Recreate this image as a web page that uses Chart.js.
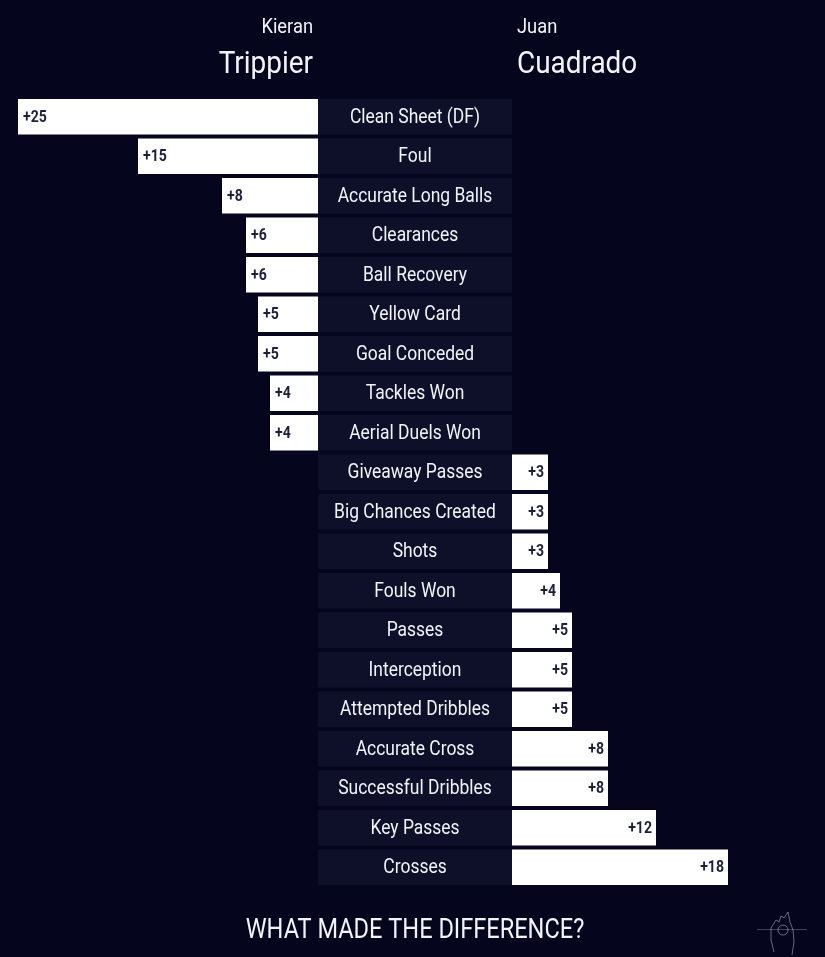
<!DOCTYPE html>
<html>
<head>
<meta charset="utf-8">
<script src="https://cdn.jsdelivr.net/npm/chart.js@4.4.1/dist/chart.umd.min.js"></script>
<style>
  html, body { margin: 0; padding: 0; background: #05061e; }
  #wrap { width: 825px; height: 957px; }
</style>
</head>
<body>
<div id="wrap"><canvas id="c" width="825" height="957"></canvas></div>
<script>
const categories = ["Clean Sheet (DF)", "Foul", "Accurate Long Balls", "Clearances", "Ball Recovery",
  "Yellow Card", "Goal Conceded", "Tackles Won", "Aerial Duels Won", "Giveaway Passes",
  "Big Chances Created", "Shots", "Fouls Won", "Passes", "Interception", "Attempted Dribbles",
  "Accurate Cross", "Successful Dribbles", "Key Passes", "Crosses"];
const trippierValues = [25, 15, 8, 6, 6, 5, 5, 4, 4, 0, 0, 0, 0, 0, 0, 0, 0, 0, 0, 0];
const cuadradoValues = [0, 0, 0, 0, 0, 0, 0, 0, 0, 3, 3, 3, 4, 5, 5, 5, 8, 8, 12, 18];
const leftPlayer = { first: "Kieran", last: "Trippier" };
const rightPlayer = { first: "Juan", last: "Cuadrado" };
const footerTitle = "WHAT MADE THE DIFFERENCE?";

const PX_PER_UNIT = 12;
const GAP = 194 / PX_PER_UNIT;          // width of the central label column, in value units
const X_MIN = -318 / PX_PER_UNIT;
const X_MAX = X_MIN + 825 / PX_PER_UNIT;

const BG = '#05061e';
const BOX = '#0e1029';
const TEXT = '#f2f4fa';
const LABEL_DARK = '#1b2036';
const FONT = "Roboto, 'Open Sans', sans-serif";

// draw text horizontally condensed (to imitate a narrow typeface)
function condText(ctx, str, x, y, align, squeeze) {
  ctx.save();
  ctx.translate(x, y);
  ctx.scale(squeeze, 1);
  ctx.textAlign = align;
  ctx.fillText(str, 0, 0);
  ctx.restore();
}

const textPlugin = {
  id: 'texts',
  beforeDraw(chart) {
    const ctx = chart.ctx;
    ctx.save();
    ctx.fillStyle = BG;
    ctx.fillRect(0, 0, chart.width, chart.height);
    ctx.restore();
  },
  afterDatasetsDraw(chart) {
    const ctx = chart.ctx;
    const xs = chart.scales.x;
    ctx.save();
    // calibrate narrowing factor
    ctx.font = "20px " + FONT;
    const squeeze = Math.min(1, 130 / ctx.measureText(categories[0]).width);
    // center labels
    const boxMeta = chart.getDatasetMeta(0);
    ctx.fillStyle = TEXT;
    ctx.textBaseline = 'middle';
    const cx = (xs.getPixelForValue(0) + xs.getPixelForValue(GAP)) / 2;
    boxMeta.data.forEach((el, i) => {
      condText(ctx, categories[i], cx, el.y + 1, 'center', squeeze);
    });
    // value labels
    ctx.font = "bold 16px " + FONT;
    ctx.fillStyle = LABEL_DARK;
    const vs = 0.88;
    chart.getDatasetMeta(1).data.forEach((el, i) => {
      const v = trippierValues[i];
      if (!v) return;
      condText(ctx, '+' + v, Math.min(el.x, el.base) + 5, el.y + 1, 'left', vs);
    });
    chart.getDatasetMeta(2).data.forEach((el, i) => {
      const v = cuadradoValues[i];
      if (!v) return;
      condText(ctx, '+' + v, Math.max(el.x, el.base) - 4, el.y + 1, 'right', vs);
    });
    // player names
    const lx = xs.getPixelForValue(0) - 5;
    const rx = xs.getPixelForValue(GAP) + 5;
    ctx.fillStyle = TEXT;
    ctx.textBaseline = 'alphabetic';
    ctx.font = "21px " + FONT;
    condText(ctx, leftPlayer.first, lx, 33, 'right', squeeze);
    condText(ctx, rightPlayer.first, rx, 33, 'left', squeeze);
    ctx.font = "32px " + FONT;
    condText(ctx, leftPlayer.last, lx, 73, 'right', squeeze);
    condText(ctx, rightPlayer.last, rx, 73, 'left', squeeze);
    // footer
    ctx.font = "27px " + FONT;
    condText(ctx, footerTitle, cx, 938, 'center', squeeze);
    // small logo mark
    ctx.strokeStyle = 'rgba(200,205,230,0.3)';
    ctx.lineWidth = 1;
    ctx.beginPath();
    ctx.moveTo(757, 929.5); ctx.lineTo(807, 929.5);
    ctx.stroke();
    ctx.strokeStyle = 'rgba(220,225,245,0.45)';
    ctx.beginPath();
    ctx.moveTo(774, 952); ctx.lineTo(771, 940); ctx.lineTo(771, 928);
    ctx.lineTo(776, 920); ctx.lineTo(779, 922); ctx.lineTo(781, 916);
    ctx.lineTo(784, 918); ctx.lineTo(788, 912); ctx.lineTo(790, 922);
    ctx.lineTo(793, 930); ctx.lineTo(794, 942); ctx.lineTo(792, 955);
    ctx.stroke();
    ctx.beginPath();
    ctx.arc(783, 930, 5, 0, Math.PI * 2);
    ctx.stroke();
    ctx.restore();
  }
};

new Chart(document.getElementById('c'), {
  type: 'bar',
  data: {
    labels: categories,
    datasets: [
      {
        data: categories.map(() => [0, GAP]),
        backgroundColor: BOX,
        grouped: false,
        barPercentage: 0.9,
        categoryPercentage: 1.0,
        order: 3
      },
      {
        data: trippierValues.map(v => v ? [-v, 0] : null),
        backgroundColor: '#ffffff',
        grouped: false,
        barPercentage: 0.9,
        categoryPercentage: 1.0,
        order: 1
      },
      {
        data: cuadradoValues.map(v => v ? [GAP, GAP + v] : null),
        backgroundColor: '#ffffff',
        grouped: false,
        barPercentage: 0.9,
        categoryPercentage: 1.0,
        order: 2
      }
    ]
  },
  options: {
    indexAxis: 'y',
    responsive: false,
    animation: false,
    layout: { padding: { top: 97, bottom: 70, left: 0, right: 0 } },
    plugins: { legend: { display: false }, tooltip: { enabled: false } },
    scales: {
      x: { type: 'linear', min: X_MIN, max: X_MAX, display: false },
      y: { display: false }
    }
  },
  plugins: [textPlugin]
});
</script>
</body>
</html>
